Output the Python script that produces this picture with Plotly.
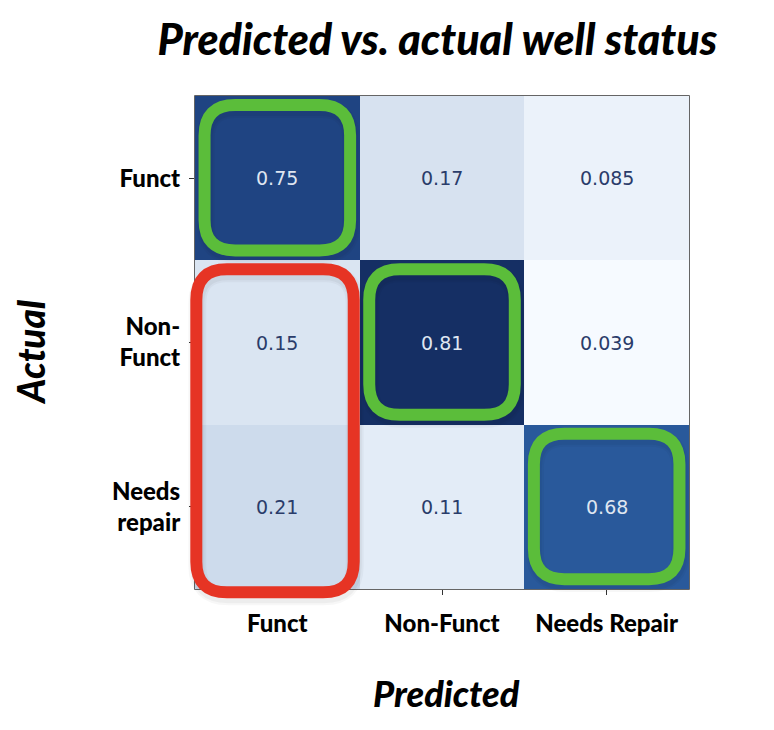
import plotly.graph_objects as go

# ---- data ----
predicted_labels = ["Funct", "Non-Funct", "Needs Repair"]
actual_labels = ["Funct", "Non-<br>Funct", "Needs<br>repair"]
z_values = [
    [0.75, 0.17, 0.085],
    [0.15, 0.81, 0.039],
    [0.21, 0.11, 0.68],
]
# highlight boxes: (first_row, last_row, column, kind)
highlights = [
    (0, 0, 0, "good"),
    (1, 1, 1, "good"),
    (2, 2, 2, "good"),
    (1, 2, 0, "bad"),
]

# ---- style ----
colorscale = [
    [0.0, "#f6faff"], [0.06, "#ebf2fa"], [0.092, "#e3ecf7"], [0.144, "#dae5f2"],
    [0.17, "#d7e2f0"], [0.222, "#cddbec"], [0.5, "#6f97c6"], [0.831, "#29599b"],
    [0.922, "#1f4482"], [1.0, "#152f64"],
]
box_style = {
    "good": dict(color="#5bbd3a", pad_l=0.058, pad_r=0.058, pad_top=0.055, pad_bot=0.06),
    "bad": dict(color="#e63424", pad_l=0.008, pad_r=0.036, pad_top=0.055, pad_bot=-0.02),
}
FONT = "Lato"
n_cols = len(predicted_labels)
n_rows = len(actual_labels)

zmin = min(min(r) for r in z_values)
zmax = max(max(r) for r in z_values)

fig = go.Figure(
    go.Heatmap(
        z=z_values,
        x=list(range(n_cols)),
        y=list(range(n_rows)),
        colorscale=colorscale,
        zmin=zmin,
        zmax=zmax,
        showscale=False,
        hoverinfo="skip",
    )
)

# cell value labels
for i, row in enumerate(z_values):
    for j, v in enumerate(row):
        dark = (v - zmin) / (zmax - zmin) > 0.5
        fig.add_annotation(
            x=j, y=i, xref="x", yref="y", text=f"{v:.2g}", showarrow=False,
            font=dict(family="DejaVu Sans", size=19,
                      color="#dfe6f1" if dark else "#2a3c6a"),
        )


def xdom(c):
    return (c + 0.5) / n_cols


def ydom(r):
    return 1 - (r + 0.5) / n_rows


def rounded_path(x0, x1, y0, y1, r):
    return (f"M {x0 + r},{y0} L {x1 - r},{y0} Q {x1},{y0} {x1},{y0 + r} "
            f"L {x1},{y1 - r} Q {x1},{y1} {x1 - r},{y1} L {x0 + r},{y1} "
            f"Q {x0},{y1} {x0},{y1 - r} L {x0},{y0 + r} Q {x0},{y0} {x0 + r},{y0} Z")


RADIUS = 0.062
for r0, r1, c, kind in highlights:
    st = box_style[kind]
    x0 = xdom(c - 0.5 + st["pad_l"])
    x1 = xdom(c + 0.5 - st["pad_r"])
    ytop = ydom(r0 - 0.5 + st["pad_top"])
    ybot = ydom(r1 + 0.5 - st["pad_bot"])
    # soft shadow
    for w, a in ((18, 0.03), (14, 0.04)):
        fig.add_shape(type="path", xref="x domain", yref="y domain",
                      path=rounded_path(x0 + 0.002, x1 + 0.002, ybot - 0.008, ytop - 0.008, RADIUS),
                      line=dict(color=f"rgba(0,0,0,{a})", width=w), layer="above")
    fig.add_shape(type="path", xref="x domain", yref="y domain",
                  path=rounded_path(x0, x1, ybot, ytop, RADIUS),
                  line=dict(color=st["color"], width=12), layer="above")

# frame
fig.add_shape(type="rect", xref="x domain", yref="y domain", x0=0, x1=1, y0=0, y1=1,
              line=dict(color="#333333", width=1.5), layer="below")

fig.update_xaxes(
    tickvals=list(range(n_cols)), ticktext=predicted_labels, range=[-0.5, n_cols - 0.5],
    ticks="outside", ticklen=5, tickcolor="#333", showgrid=False, zeroline=False,
    ticklabelstandoff=8,
    tickfont=dict(family=FONT, size=24, color="black", weight=900),
)
fig.update_yaxes(
    tickvals=list(range(n_rows)), ticktext=actual_labels, range=[n_rows - 0.5, -0.5],
    ticks="outside", ticklen=5, tickcolor="#333", showgrid=False, zeroline=False,
    ticklabelstandoff=4,
    tickfont=dict(family=FONT, size=24, color="black", weight=900),
)

fig.add_annotation(x=0.51, y=-0.211, xref="paper", yref="paper", text="Predicted",
                   showarrow=False, xanchor="center", yanchor="middle",
                   font=dict(family=FONT, size=36, color="black", weight=900, style="italic"))
fig.add_annotation(x=-0.332, y=0.481, xref="paper", yref="paper", text="Actual",
                   showarrow=False, textangle=-90, xanchor="center", yanchor="middle",
                   font=dict(family=FONT, size=37, color="black", weight=900, style="italic"))

fig.update_layout(
    width=774, height=730,
    margin=dict(l=195, r=85, t=96, b=141),
    paper_bgcolor="white", plot_bgcolor="white",
    title=dict(text="Predicted vs. actual well status", x=0.565, xanchor="center",
               y=1 - 40 / 730, yanchor="middle", yref="container",
               font=dict(family=FONT, size=43, color="black", weight=900, style="italic")),
)

fig.write_html("out.html")
